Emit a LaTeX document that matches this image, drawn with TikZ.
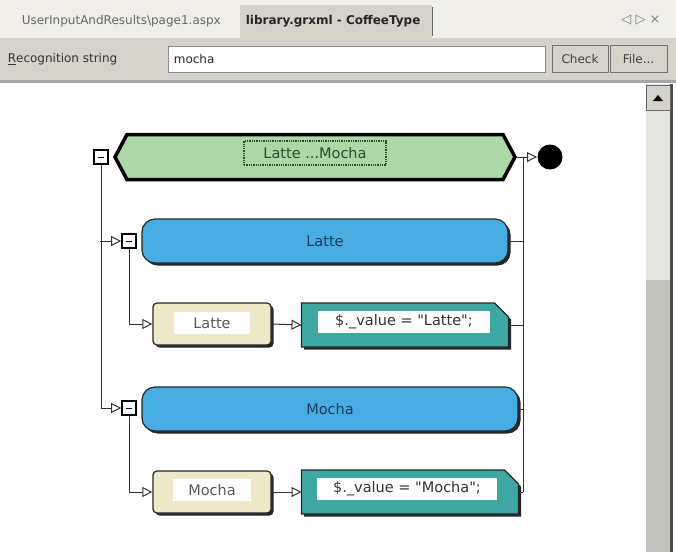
\documentclass[tikz,border=0pt]{standalone}
\usepackage{fontspec}
\setmainfont{DejaVu Sans}
\newfontfamily\symfont{DejaVu Sans}
\usetikzlibrary{positioning,shapes.symbols,arrows.meta,shadows}
\definecolor{GrxGreen}{HTML}{ABD8A6}
\definecolor{GrxBlue}{HTML}{46ACE2}
\definecolor{GrxBeige}{HTML}{EEE8C8}
\definecolor{GrxTeal}{HTML}{3FA8A2}
\definecolor{GrxText}{HTML}{1F3A5E}
\definecolor{GrxLabel}{HTML}{2F4A30}
\definecolor{PaneGrey}{HTML}{D5D2CA}
\definecolor{TabLight}{HTML}{F0EEE8}
\definecolor{ScrollLight}{HTML}{E6E6E1}
\definecolor{ScrollDark}{HTML}{C3C3BB}

\begin{document}
\begin{tikzpicture}[x=1pt,y=-1pt,line width=1pt,draw=black!80,
  font=\fontsize{12}{14}\selectfont,
  boxfont/.style={font=\fontsize{14.5}{17}\selectfont},
  boxshadow/.style={drop shadow={shadow xshift=2.5pt,shadow yshift=-2.5pt,opacity=1,fill=black!85}},
  choicebox/.style={signal,signal to=west and east,signal pointer angle=124,draw=black,
    line width=3.5pt,fill=GrxGreen,minimum width=400pt,minimum height=45pt,inner sep=0pt},
  rulebox/.style={draw=black!85,line width=1.2pt,fill=GrxBlue,rounded corners=13pt,
    minimum width=#1,minimum height=44pt,text=GrxText,boxfont,boxshadow},
  itembox/.style={draw=black!85,line width=1.2pt,fill=GrxBeige,rounded corners=4pt,
    minimum width=118pt,minimum height=42pt,boxshadow},
  tagbox/.style={minimum width=#1,minimum height=43pt,inner sep=0pt},
  tagfill/.style={draw=black!85,line width=1.2pt,fill=GrxTeal,boxshadow},
  labelbox/.style={fill=white,minimum height=22pt,inner sep=2pt,text=black!65,boxfont},
  togglebox/.style={draw=black,line width=1.6pt,fill=white,minimum size=14pt,inner sep=0pt},
  flow/.style={-{Triangle[open,length=10pt,width=10pt,line width=1pt]}},
  button/.style={draw=black!55,fill=PaneGrey,minimum height=27pt,inner sep=2pt,text=black!75}]

  % window chrome
  \fill[white] (0,0) rectangle (676,552);
  \fill[TabLight] (0,0) rectangle (676,38);
  \fill[PaneGrey] (240,5) rectangle (432,38);
  \draw[black!60] (432,7) -- (432,36);
  \node[anchor=west,text=black!60] (tabpage) at (18,21) {UserInputAndResults\textbackslash page1.aspx};
  \node[anchor=west,font=\fontsize{12}{14}\selectfont\bfseries,text=black!85] (tabgrammar) at (242,21) {library.grxml - CoffeeType};
  \node[text=black!50,font=\symfont\fontsize{13}{15}\selectfont] (tabnav) at (641,20) {◁\ ▷\ ×};
  \fill[PaneGrey] (0,38) rectangle (676,80);
  \node[anchor=west,text=black!80] (reclabel) at (4,59) {\underline{R}ecognition string};
  \node[draw=black!45,fill=white,minimum width=377pt,minimum height=26pt,anchor=west] (recinput) at (168,59) {};
  \node[anchor=west,text=black!85] (recvalue) at ([xshift=2pt]recinput.west) {mocha};
  \node[button,minimum width=56pt] (checkbtn) at (580,59) {Check};
  \node[button,right=1pt of checkbtn,minimum width=57pt] (filebtn) {File...};
  \fill[black!35] (0,80) rectangle (676,83);
  \fill[ScrollLight] (646,84) rectangle (672,280);
  \fill[ScrollDark] (646,280) rectangle (672,552);
  \fill[black!70] (670,84) rectangle (673,552);
  \draw[black!60,fill=PaneGrey] (646,85) rectangle (670,110);
  \fill[black] (653,101) -- (663,101) -- (658,95) -- cycle;

  % grammar diagram
  \coordinate (leftrail) at (100,0);
  \coordinate (rightrail) at (523,0);
  \node[choicebox] (grammar) at (315,157) {};
  \node[draw=GrxLabel,densely dotted,line width=1.3pt,text=GrxLabel,boxfont,inner sep=3pt,
    minimum width=142pt,minimum height=24pt] (grammarlabel) at (315,153) {Latte ...Mocha\ };
  \node[togglebox] (grammartoggle) at (101,157) {\rule{6pt}{1pt}};
  \node[circle,fill=black,minimum size=25pt,inner sep=0pt] (finish) at (550,157) {};

  \node[rulebox=366pt] (latterule) at (325,241) {Latte};
  \node[togglebox] (lattetoggle) at (129,241) {\rule{6pt}{1pt}};
  \node[itembox] (latteitem) at (212,324) {};
  \node[labelbox,minimum width=76pt] (lattelabel) at (212,323) {Latte};
  \node[tagbox=206pt] (lattetag) at (405,325) {};
  \draw[tagfill] (lattetag.south west) -- (lattetag.north west) -- ([xshift=-14pt]lattetag.north east)
    -- ([yshift=-14pt]lattetag.north east) -- (lattetag.south east) -- cycle;
  \node[labelbox,minimum width=172pt,text=black!80] (lattecode) at (404,322) {\$.\_value = \textquotedbl Latte\textquotedbl;};

  \node[rulebox=376pt] (mocharule) at (330,409) {Mocha};
  \node[togglebox] (mochatoggle) at (129,408) {\rule{6pt}{1pt}};
  \node[itembox] (mochaitem) at (212,492) {};
  \node[labelbox,minimum width=78pt] (mochalabel) at (212,490) {Mocha};
  \node[tagbox=216pt] (mochatag) at (410,492) {};
  \draw[tagfill] (mochatag.south west) -- (mochatag.north west) -- ([xshift=-14pt]mochatag.north east)
    -- ([yshift=-14pt]mochatag.north east) -- (mochatag.south east) -- cycle;
  \node[labelbox,minimum width=180pt,text=black!80] (mochacode) at (407,489) {\$.\_value = \textquotedbl Mocha\textquotedbl;};

  \draw[flow] (grammartoggle.south) |- (mochatoggle.west);
  \draw[flow] (leftrail |- lattetoggle) -- (lattetoggle.west);
  \draw[flow] (lattetoggle.south) |- (latteitem.west);
  \draw[flow] (mochatoggle.south) |- (mochaitem.west);
  \draw[flow] (latteitem.east) -- (lattetag.west);
  \draw[flow] (mochaitem.east) -- (mochatag.west);
  \draw (rightrail |- grammar) -- (rightrail |- mochaitem);
  \draw (latterule.east) -- (rightrail |- latterule);
  \draw (mocharule.east) -- (rightrail |- mocharule);
  \draw (lattetag.east) -- (rightrail |- lattetag);
  \draw (mochatag.east) -- (rightrail |- mochatag);
  \draw[flow] (grammar.east) -- (finish.west);
\end{tikzpicture}
\end{document}
